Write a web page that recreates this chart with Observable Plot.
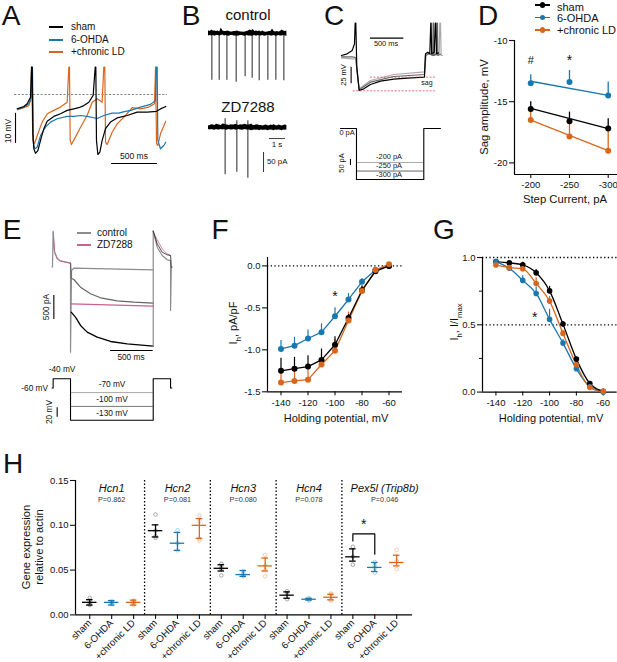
<!DOCTYPE html>
<html><head><meta charset="utf-8">
<script src="https://cdn.jsdelivr.net/npm/d3@7"></script>
<script src="https://cdn.jsdelivr.net/npm/@observablehq/plot@0.6"></script>
<style>
html,body{margin:0;padding:0;background:#fff}
#page{position:relative;width:617px;height:662px;overflow:hidden;font-family:"Liberation Sans",Arial,sans-serif;color:#111}
.t{position:absolute;white-space:nowrap;line-height:.8}
.sw{position:absolute}
sub{font-size:70%;line-height:0}
</style></head><body><div id="page"></div>
<script>
// ---------- colours ----------
const BLACK="#000", BLUE="#1a78b0", ORANGE="#d8671d", GREY="#8c8c8c", DARK="#4a4a4a", LIGHT="#aaa", PINK="#c8628f";

// ---------- panel A: membrane potential, [ms, mV relative to dotted line] ----------
const aSham=[[0,-4.8],[73,-4],[109,-3.1],[146,-.9],[157,9.1],[164,9.1],[171,-13.1],[182,-18.1],[200,-19.6],[226,-18.7],[255,-15.3],[291,-11.4],[328,-8.9],[400,-7.3],[473,-6.4],[546,-5.3],[619,-4.8],[673,-4.4],[728,-3.7],[783,-2.6],[830,-.3],[852,9.1],[859,9.1],[866,-15.3],[881,-20],[903,-19.2],[928,-15.3],[965,-11.4],[1019,-9.2],[1092,-7.8],[1201,-7],[1310,-5.9],[1420,-5.9],[1522,-5.6],[1565,-4.8],[1623,-4]];
const aOhda=[[7,-4.8],[73,-4.2],[127,-3.1],[153,-.9],[160,9.1],[167,9.1],[178,-16.4],[193,-18.1],[218,-17.6],[255,-13.7],[309,-10.9],[364,-9.2],[437,-8.1],[546,-7.3],[619,-7.3],[692,-7],[764,-7.3],[874,-8],[946,-7],[1037,-6.2],[1110,-6.2],[1147,-5.9],[1238,-5.3],[1347,-4.2],[1456,-3.3],[1511,-2],[1518,9.1],[1529,9.1],[1536,-15.3],[1565,-18.1],[1602,-17],[1623,-15.9]];
const aLd=[[7,-5.1],[73,-4.4],[127,-3.7],[146,-2],[157,9.1],[171,-15.3],[189,-16.4],[226,-13.1],[273,-9.2],[328,-6.4],[400,-5.3],[473,-4.2],[546,-2.6],[564,9.1],[571,9.1],[579,-15.3],[593,-16.7],[626,-14.8],[692,-10.9],[764,-7],[819,-2.6],[874,-1.4],[928,-2.6],[946,9.1],[957,9.1],[965,-15.9],[983,-16.7],[1037,-12.6],[1092,-9.8],[1183,-7],[1256,-4.4],[1347,-4.8],[1438,-4.2],[1500,-3.1],[1511,9.1],[1522,-16.4],[1536,-17],[1565,-13.1],[1623,-8.9]];

// ---------- panel B: cell-attached current ----------
const bSampleStep=0.1;
const bCtrlHi=[7,5,9,6,6,5,6,4,14,6,5,5,6,5,4,4,5,5,6,5,4,4,3,4,5,6,9,7,10,5,6,5,6,4,6,4,3,4,5,5,11,5,4,5,4,5,9,6,5,6];
const bCtrlLo=[-6,-5,-6,-5,-7,-5,-5,-6,-5,-4,-6,-5,-6,-7,-5,-5,-6,-6,-7,-6,-5,-5,-6,-7,-5,-6,-6,-7,-6,-5,-7,-5,-6,-6,-5,-7,-6,-5,-5,-6,-6,-5,-7,-6,-5,-6,-6,-5,-6,-7];
const bCtrlSpikeT=[.21,.67,1.15,1.73,2.29,2.73,3.17,3.71,4.21,4.71];
const bCtrlSpikeI=[-117,-117,-117,-122,-108,-112,-118,-117,-117,-118];
const bZdHi=[4,5,7,6,5,8,7,6,5,9,8,7,6,5,7,6,6,8,6,5,7,6,7,8,6,6,7,9,5,5,7,6,5,5,4,5,6,5,4,6,5,7,5,4,6,5,4,5,6,5];
const bZdLo=[-5,-6,-5,-6,-7,-5,-6,-6,-5,-6,-5,-7,-6,-5,-6,-6,-5,-7,-6,-5,-6,-7,-6,-5,-6,-6,-7,-8,-7,-6,-7,-6,-8,-6,-7,-7,-6,-8,-7,-6,-7,-8,-6,-7,-6,-7,-8,-6,-7,-6];
const bZdSpikeT=[1.04,1.77,2.46];
const bZdSpikeI=[-118,-112,-127];
const bZdSpikeTop=[22,17,17];

// ---------- panel C: voltage responses to current steps [ms, mV] ----------
const c200=[[0,-3.5],[162,-5],[217,-5],[232,-20],[268,-50],[439,-37.5],[793,-28.5],[1257,-24.5],[1283,0],[1320,3],[1380,0],[1399,48.5],[1404,48.5],[1410,0],[1480,2],[1490,48.5],[1500,48.5],[1510,0],[1530,0]];
const c250=[[0,-2],[162,-2],[217,-3],[232,-20],[268,-51.5],[439,-40],[793,-31.5],[1257,-28.5],[1273,0],[1330,3],[1384,0],[1389,48.5],[1394,48.5],[1400,0],[1440,3],[1449,48.5],[1454,48.5],[1460,0],[1500,2]];
const c300=[[0,0],[86,2.5],[162,7.5],[197,17.5],[207,48.5],[217,48.5],[232,-17.5],[268,-52.5],[338,-50],[439,-43.5],[591,-38.5],[793,-35.5],[995,-34],[1257,-32.5],[1273,2.5],[1308,5],[1338,2.5],[1353,48.5],[1358,48.5],[1366,2.5],[1405,5],[1424,48.5],[1430,48.5],[1438,2.5],[1470,4]];
const cStepOutline=[[-15,0],[227,0],[227,-300],[1247,-300],[1247,0],[1500,0]];
const cStepLevels=[-200,-250];
const cStepStart=227, cStepEnd=1247;

// ---------- panel D ----------
const dSteps=[-200,-250,-300];
const dFitSteps=[-200,-300];
const dSham=[-15.6,-16.6,-17.2], dShamTop=[-15,-15.85,-16.4], dShamFit=[-15.55,-17.2];
const dOhda=[-13.5,-13.4,-14.5], dOhdaTop=[-12.8,-12.45,-13.4], dOhdaFit=[-13.33,-14.48];
const dLd=[-16.5,-17.85,-19], dLdTop=[-15.7,-16.7,-17.4], dLdFit=[-16.5,-19];

// ---------- panel E: current traces [ms, pA] ----------
const eCtrlPre=[[-12,0],[-8,14],[0,750],[16,312],[47,174],[86,125],[144,104],[195,83],[203,83]];
const eZdPre=[[0,720],[16,330],[47,190],[86,135],[144,110],[195,90]];
const eCtrl70=[[203,83],[203,-1770],[215,-69],[242,-21],[1170,-56]];
const eCtrl100=[[203,83],[211,-229],[242,-257],[320,-416],[437,-555],[554,-638],[749,-701],[944,-729],[1170,-750]];
const eZd100=[[211,-763],[1170,-812]];
const eCtrl130=[[211,-937],[261,-1041],[320,-1214],[398,-1353],[515,-1457],[671,-1548],[866,-1596],[1170,-1645]];
const eEdge=[[1170,-1645],[1170,750]];
const ePostGrey=[[1170,750],[1217,416],[1275,243],[1334,153],[1373,139],[1373,-902],[1381,0],[1392,0]];
const ePostPink=[[1170,730],[1217,569],[1275,382],[1334,278],[1373,243]];
const ePostBlack=[[1170,750],[1217,486],[1275,312],[1334,257],[1373,243],[1381,0]];
const eVoltOutline=[[-12,-60],[0,-60],[0,-40],[203,-40],[203,-130],[1170,-130],[1170,-40],[1373,-40],[1373,-60],[1388,-60]];
const eVoltLight=[-70], eVoltDark=[-100];
const eStepStart=203, eStepEnd=1170;

// ---------- panels F and G ----------
const holding=[-140,-130,-120,-110,-100,-90,-80,-70,-60];
const fSham=[-1.25,-1.225,-1.2,-1.12,-.94,-.62,-.29,-.065,0];
const fShamTop=[-1.1,-1.09,-1.07,-.99,-.845,-.58,-.24,-.05,0];
const fOhda=[-.99,-.95,-.865,-.79,-.6,-.4,-.19,-.05,0];
const fOhdaTop=[-.89,-.85,-.765,-.69,-.5,-.33,-.15,-.04,0];
const fLd=[-1.39,-1.37,-1.355,-1.175,-1.01,-.65,-.3,-.05,.02];
const fLdTop=[-1.24,-1.22,-1.2,-1.05,-.88,-.55,-.24,-.04,.02];
const gSham=[.97,.96,.945,.886,.752,.505,.245,.064,.005];
const gShamTop=[.985,.975,.965,.91,.785,.525,.26,.075,.005];
const gOhda=[.97,.92,.83,.733,.54,.364,.173,.04,0];
const gOhdaTop=[.985,.935,.865,.78,.615,.39,.19,.05,0];
const gLd=[.945,.925,.916,.807,.676,.436,.203,.035,.005];
const gLdTop=[.955,.94,.935,.85,.71,.46,.22,.045,.005];

// ---------- panel H ----------
const genes=["Hcn1","Hcn2","Hcn3","Hcn4","Pex5l (Trip8b)"];
const pValues=["P=0.862","P=0.081","P=0.080","P=0.078","P=0.046"];
const groups=["sham","6-OHDA","+chronic LD"];
const groupColors=[BLACK,BLUE,ORANGE];
const hMean=[.014,.014,.014,.094,.08,.1,.052,.045,.0547,.022,.0175,.0197,.0648,.053,.0585];
const hTop=[.017,.016,.0165,.1005,.092,.1075,.056,.0495,.0635,.0257,.0185,.023,.0737,.0585,.0666];
const hBot=[.011,.011,.011,.087,.072,.0855,.049,.043,.049,.0186,.0165,.0168,.06,.0484,.0547];
const hPoints=[[.019,.012,.011,.016],[.015,.012,.014,.013],[.012,.016,.014,.011,.015],[.112,.086,.088,.094],[.0945,.072,.08],[.111,.083,.085,.105],[.057,.044,.051,.053],[.049,.044,.043,.046],[.067,.043,.05,.055],[.0265,.0175,.024],[.019,.016,.017],[.024,.016,.017,.023],[.076,.056,.065],[.059,.047,.052,.055],[.0726,.051,.06]];
const hGeneCentre=[1,4,7,10,13.45];
const hSeparators=[2.5,5.5,8.5,11.5];
const hBracket=[[12,.0826],[12,.0904],[13,.0904],[13,.0677]];

// ---------- helpers ----------
const page=document.getElementById("page");
function panel({box,m=[0,0,0,0],xd,yd,marks}){
  const [x0,y0,x1,y1]=box,[mt,mr,mb,ml]=m;
  const svg=Plot.plot({width:x1-x0+ml+mr,height:y1-y0+mt+mb,marginTop:mt,marginRight:mr,marginBottom:mb,marginLeft:ml,
    x:{domain:xd,axis:null},y:{domain:yd,axis:null},
    style:{background:"transparent",overflow:"visible",fontFamily:'"Liberation Sans",Arial,sans-serif',maxWidth:"none"},marks});
  svg.style.position="absolute";svg.style.left=(x0-ml)+"px";svg.style.top=(y0-mt)+"px";
  page.appendChild(svg);return svg;
}
function txt(x,y,html,{size=10,anchor="m",rot=0,color="#111",style=""}={}){
  const d=document.createElement("div");d.className="t";d.innerHTML=html;
  const ax=anchor==="m"?"-50%":anchor==="e"?"-100%":"0";
  d.style.cssText=`left:${x}px;top:${y}px;font-size:${size}px;color:${color};transform:translate(${ax},-50%) rotate(${rot}deg);${style}`;
  page.appendChild(d);
}
function swatch(x0,x1,y,color,dot,h=1.4){
  const l=document.createElement("div");l.className="sw";
  l.style.cssText=`left:${x0}px;top:${y-h/2}px;width:${x1-x0}px;height:${h}px;background:${color}`;page.appendChild(l);
  if(dot){const c=document.createElement("div");c.className="sw";
    c.style.cssText=`left:${(x0+x1)/2-2.7}px;top:${y-2.7}px;width:5.4px;height:5.4px;border-radius:50%;background:${color}`;page.appendChild(c);}
}
const seg=(x1,x2,y,o={})=>Plot.ruleY([y],{x1:x1,x2:x2,stroke:"#000",strokeWidth:1.1,...o});
const vseg=(x,y1,y2,o={})=>Plot.ruleX([x],{y1:y1,y2:y2,stroke:"#000",strokeWidth:1.1,...o});
const line=(a,stroke,w=1.2)=>Plot.line(a,{stroke,strokeWidth:w,curve:"linear"});
const series=(xs,ys,tops)=>xs.map((x,i)=>({x,y:ys[i],top:tops?tops[i]:ys[i]}));
const axisText=d=>String(d);
const star=(rows)=>Plot.text(rows,{x:"x",y:"y",text:"s",fontSize:14,dy:3,fill:"#111"});

// ---------- panel letters ----------
[["A",11,16],["B",191,16],["C",334,16],["D",488,16],["E",12,230],["F",220,230],["G",444,230],["H",13,464]].forEach(([s,x,y])=>txt(x,y,s,{size:28,style:"line-height:.72"}));

// ---------- A ----------
panel({box:[0,60,200,180],xd:[-182,2002],yd:[-28.67,11.33],marks:[
  Plot.ruleY([0],{x1:-29,x2:1641,stroke:"#666",strokeWidth:.8,strokeDasharray:"2.2,1.6"}),
  line(aLd,ORANGE),line(aOhda,BLUE),line(aSham,BLACK),
  seg(1031,1532,-23),vseg(-18,-6.3,-16.3)]});
swatch(49,63,27,BLACK);swatch(49,63,40,BLUE);swatch(49,63,52,ORANGE);
txt(71,27,"sham",{size:10,anchor:"s"});txt(71,40,"6-OHDA",{size:10,anchor:"s"});txt(71,52,"+chronic LD",{size:10,anchor:"s"});
txt(134,156,"500 ms",{size:8.5});txt(8,131,"10 mV",{size:8.5,rot:-90});

// ---------- B ----------
const bEnv=(hi,lo)=>hi.map((h,i)=>({t:i*bSampleStep,hi:h,lo:lo[i]}));
panel({box:[200,20,300,90],xd:[-.5,5.75],yd:[-142.5,32.5],marks:[
  Plot.ruleX(bCtrlSpikeT.map((t,i)=>({t,i:bCtrlSpikeI[i]})),{x:"t",y1:0,y2:"i",stroke:DARK,strokeWidth:1.2}),
  Plot.areaY(bEnv(bCtrlHi,bCtrlLo),{x:"t",y1:"lo",y2:"hi",fill:"#000"})]});
panel({box:[200,115,300,185],xd:[-.5,5.75],yd:[-145,30],marks:[
  Plot.ruleX(bZdSpikeT.map((t,i)=>({t,i:bZdSpikeI[i],u:bZdSpikeTop[i]})),{x:"t",y1:"u",y2:"i",stroke:DARK,strokeWidth:1.2}),
  Plot.areaY(bEnv(bZdHi,bZdLo),{x:"t",y1:"lo",y2:"hi",fill:"#000"}),
  seg(3.81,4.81,-27.5,{stroke:"#333",strokeWidth:.9}),vseg(3.44,-62.5,-112.5,{stroke:"#333",strokeWidth:1})]});
txt(248,15,"control",{size:15});txt(248,107,"ZD7288",{size:15});
txt(277,145,"1 s",{size:8});txt(267,162,"50 pA",{size:7.8,anchor:"s"});

// ---------- C ----------
panel({box:[340,20,445,100],xd:[-15,1576],yd:[-67.5,52.5],marks:[
  line(c200,LIGHT),line(c250,"#666"),line(c300,BLACK),
  Plot.ruleY([-32.5],{x1:439,x2:1424,stroke:"#d2354a",strokeWidth:.7,strokeDasharray:"2,1.5"}),
  Plot.ruleY([-53],{x1:177,x2:1424,stroke:"#d2354a",strokeWidth:.7,strokeDasharray:"2,1.5"}),
  seg(439,944,26),vseg(146,-17.5,-42.5)]});
txt(386,44,"500 ms",{size:7.4});txt(344,75,"25 mV",{size:7.4,rot:-90});txt(427,83,"sag",{size:7});
panel({box:[335,120,445,185],xd:[-91,1576],yd:[-335,47],marks:[
  seg(cStepStart,cStepEnd,cStepLevels[0],{stroke:LIGHT,strokeWidth:1}),
  seg(cStepStart,cStepEnd,cStepLevels[1],{stroke:"#666",strokeWidth:1}),
  line(cStepOutline,BLACK,1.1),vseg(136,-182,-217)]});
txt(347,133,"0 pA",{size:7.4});txt(342,163,"50 pA",{size:7.4,rot:-90});
txt(389,157,"-200 pA",{size:7.4});txt(389,166,"-250 pA",{size:7.4});txt(389,174.5,"-300 pA",{size:7.4});

// ---------- D ----------
panel({box:[514,40,617,174],m:[6,0,22,40],xd:[-179,-312],yd:[-20.95,-10],marks:[
  Plot.axisX({ticks:dSteps,tickFormat:axisText,tickSize:4,tickPadding:3,fontSize:9.5,label:null,strokeWidth:1.1}),
  Plot.axisY({ticks:[-10,-15,-20],tickFormat:axisText,tickSize:5,tickPadding:2,fontSize:9.5,label:null,strokeWidth:1.1}),
  Plot.ruleX([-179],{stroke:"#000",strokeWidth:1.2}),Plot.ruleY([-20.95],{stroke:"#000",strokeWidth:1.2}),
  ...[[dOhda,dOhdaTop,dOhdaFit,BLUE],[dLd,dLdTop,dLdFit,ORANGE],[dSham,dShamTop,dShamFit,BLACK]].flatMap(([v,t,f,c])=>[
    Plot.ruleX(series(dSteps,v,t),{x:"x",y1:"y",y2:"top",stroke:c,strokeWidth:1.3}),
    Plot.line(series(dFitSteps,f),{x:"x",y:"y",stroke:c,strokeWidth:1.3}),
    Plot.dot(series(dSteps,v),{x:"x",y:"y",fill:c,r:3})]),
  Plot.text([{x:-200,y:-11.6,s:"#"}],{x:"x",y:"y",text:"s",fontSize:11,fill:"#111"}),
  star([{x:-250,y:-11.4,s:"*"}])]});
swatch(535,550,5,BLACK,true);swatch(535,550,17.5,BLUE,true);swatch(535,550,30,ORANGE,true);
txt(557,6.5,"sham",{size:11,anchor:"s"});txt(557,18,"6-OHDA",{size:11,anchor:"s"});txt(557,30,"+chronic LD",{size:11,anchor:"s"});
txt(485,107,"Sag amplitude, mV",{size:11.3,rot:-90});txt(565,200,"Step Current, pA",{size:11.3});

// ---------- E ----------
panel({box:[40,225,180,360],xd:[-148,1489],yd:[-1944,868],marks:[
  line(eCtrlPre,GREY),line(eZdPre,PINK,.8),line(eCtrl70,GREY),line(eCtrl100,"#666"),line(eCtrl130,BLACK,1.3),
  line(eEdge,GREY),line(eZd100,PINK,1.2),line(ePostGrey,GREY),line(ePostPink,PINK,.8),line(ePostBlack,"#222",.8),
  seg(671,1170,-1735),vseg(8,-590,-1090)]});
swatch(77,91,233,GREY);swatch(77,91,245,PINK);
txt(97,233,"control",{size:10,anchor:"s"});txt(97,245,"ZD7288",{size:10,anchor:"s"});
txt(46,307,"500 pA",{size:8.3,rot:-90});txt(131,357,"500 ms",{size:8.3});
panel({box:[40,370,180,425],xd:[-148,1489],yd:[-141.5,-22],marks:[
  seg(eStepStart,eStepEnd,eVoltLight[0],{stroke:LIGHT,strokeWidth:1}),
  seg(eStepStart,eStepEnd,eVoltDark[0],{stroke:"#777",strokeWidth:1}),
  line(eVoltOutline,BLACK,1.1),vseg(47,-103,-123.4)]});
txt(62,369,"-40 mV",{size:8.3});txt(48,388,"-60 mV",{size:8.3,anchor:"e"});
txt(49,412,"20 mV",{size:8.3,rot:-90});
txt(112,384,"-70 mV",{size:8.3});txt(112,399,"-100 mV",{size:8.3});txt(112,413,"-130 mV",{size:8.3});

// ---------- F ----------
panel({box:[267.3,256.7,402.3,391],m:[6,4,24,40],xd:[-150,-50],yd:[-1.5,.1],marks:[
  Plot.axisX({ticks:[-140,-120,-100,-80,-60],tickFormat:axisText,tickSize:4,tickPadding:3,fontSize:9.5,label:null,strokeWidth:1.1}),
  Plot.axisY({ticks:[0,-.5,-1,-1.5],tickFormat:d=>d.toFixed(1),tickSize:5,tickPadding:2,fontSize:9.5,label:null,strokeWidth:1.1}),
  Plot.ruleX([-150],{stroke:"#000",strokeWidth:1.2}),Plot.ruleY([-1.5],{stroke:"#000",strokeWidth:1.2}),
  Plot.ruleY([0],{stroke:"#000",strokeWidth:1.3,strokeDasharray:"1.3,2.4"}),
  ...[[fOhda,fOhdaTop,BLUE],[fLd,fLdTop,ORANGE],[fSham,fShamTop,BLACK]].flatMap(([v,t,c])=>[
    Plot.ruleX(series(holding,v,t),{x:"x",y1:"y",y2:"top",stroke:c,strokeWidth:1.2}),
    Plot.line(series(holding,v),{x:"x",y:"y",stroke:c,strokeWidth:1.3})]),
  ...[[fOhda,BLUE],[fSham,BLACK],[fLd,ORANGE]].map(([v,c])=>Plot.dot(series(holding,v),{x:"x",y:"y",fill:c,r:3})),
  star([{x:-100,y:-.33,s:"*"}])]});
txt(336,418,"Holding potential, mV",{size:11});
txt(234,323,"I<sub>h</sub>, pA/pF",{size:11,rot:-90});

// ---------- G ----------
panel({box:[482,256.7,616.7,391.3],m:[6,0,24,40],xd:[-150,-49.6],yd:[0,1],marks:[
  Plot.axisX({ticks:[-140,-120,-100,-80,-60],tickFormat:axisText,tickSize:4,tickPadding:3,fontSize:9.5,label:null,strokeWidth:1.1}),
  Plot.axisY({ticks:[0,.5,1],tickFormat:d=>d.toFixed(1),tickSize:5,tickPadding:2,fontSize:9.5,label:null,strokeWidth:1.1}),
  Plot.axisY({ticks:[.25,.75],tickFormat:()=>"",tickSize:3,label:null,strokeWidth:1}),
  Plot.ruleX([-150],{stroke:"#000",strokeWidth:1.2}),Plot.ruleY([0],{stroke:"#000",strokeWidth:1.2}),
  Plot.ruleY([1,.5],{stroke:"#000",strokeWidth:1.3,strokeDasharray:"1.3,2.4"}),
  ...[[gOhda,gOhdaTop,BLUE],[gLd,gLdTop,ORANGE],[gSham,gShamTop,BLACK]].flatMap(([v,t,c])=>[
    Plot.ruleX(series(holding,v,t),{x:"x",y1:"y",y2:"top",stroke:c,strokeWidth:1.2}),
    Plot.line(series(holding,v),{x:"x",y:"y",stroke:c,strokeWidth:1.3,curve:"monotone-x"})]),
  ...[[gSham,BLACK],[gOhda,BLUE],[gLd,ORANGE]].map(([v,c])=>Plot.dot(series(holding,v),{x:"x",y:"y",fill:c,r:2.8})),
  star([{x:-111,y:.58,s:"*"}])]});
txt(551,418,"Holding potential, mV",{size:11});
txt(455,322,"I<sub>h</sub>, I/I<sub>max</sub>",{size:11,rot:-90});

// ---------- H ----------
const hIdx=hMean.map((_,i)=>i);
const hLabels=hIdx.map(i=>groups[i%3]);
const hRows=hIdx.map(i=>({i,mean:hMean[i],top:hTop[i],bot:hBot[i],c:groupColors[i%3]}));
const hDots=hIdx.flatMap(i=>hPoints[i].map(v=>({i,v,c:groupColors[i%3]})));
panel({box:[74.7,480.3,411.7,614.7],m:[4,4,47,36],xd:[-.65,14.72],yd:[0,.15],marks:[
  Plot.axisX({ticks:hIdx,tickFormat:i=>hLabels[i],tickSize:4.5,tickPadding:2,fontSize:9.7,tickRotate:-45,label:null,strokeWidth:1.1}),
  Plot.axisY({ticks:[0,.05,.1,.15],tickFormat:d=>d.toFixed(2),tickSize:5,tickPadding:2,fontSize:9.5,label:null,strokeWidth:1.1}),
  Plot.ruleX([-.65],{stroke:"#000",strokeWidth:1.2}),Plot.ruleY([0],{stroke:"#000",strokeWidth:1.2}),
  Plot.ruleX(hSeparators,{y1:0,y2:.15,stroke:"#000",strokeWidth:1.3,strokeDasharray:"1.3,2.2"}),
  Plot.dot(hDots,{x:"i",y:"v",stroke:"c",r:1.8,strokeWidth:.7,strokeOpacity:.45,fill:"none"}),
  Plot.ruleX(hRows,{x:"i",y1:"bot",y2:"top",stroke:"c",strokeWidth:1.3}),
  Plot.ruleY(hRows,{y:"mean",x1:d=>d.i-.33,x2:d=>d.i+.33,stroke:"c",strokeWidth:1.3}),
  Plot.ruleY(hRows,{y:"top",x1:d=>d.i-.15,x2:d=>d.i+.15,stroke:"c",strokeWidth:1.3}),
  Plot.ruleY(hRows,{y:"bot",x1:d=>d.i-.15,x2:d=>d.i+.15,stroke:"c",strokeWidth:1.3}),
  Plot.line(hBracket,{stroke:"#000",strokeWidth:1.2}),
  star([{x:12.5,y:.104,s:"*"}]),
  Plot.text(genes.map((g,k)=>({g,x:hGeneCentre[k]})),{x:"x",y:()=>.1415,text:"g",fontSize:11,fontStyle:"italic",fill:"#111"}),
  Plot.text(pValues.map((p,k)=>({p,x:hGeneCentre[k]})),{x:"x",y:()=>.1285,text:"p",fontSize:7.3,fill:"#333"})]});
txt(26,547,"Gene expression",{size:11.2,rot:-90});txt(39,547,"relative to actin",{size:11.2,rot:-90});
</script></body></html>
